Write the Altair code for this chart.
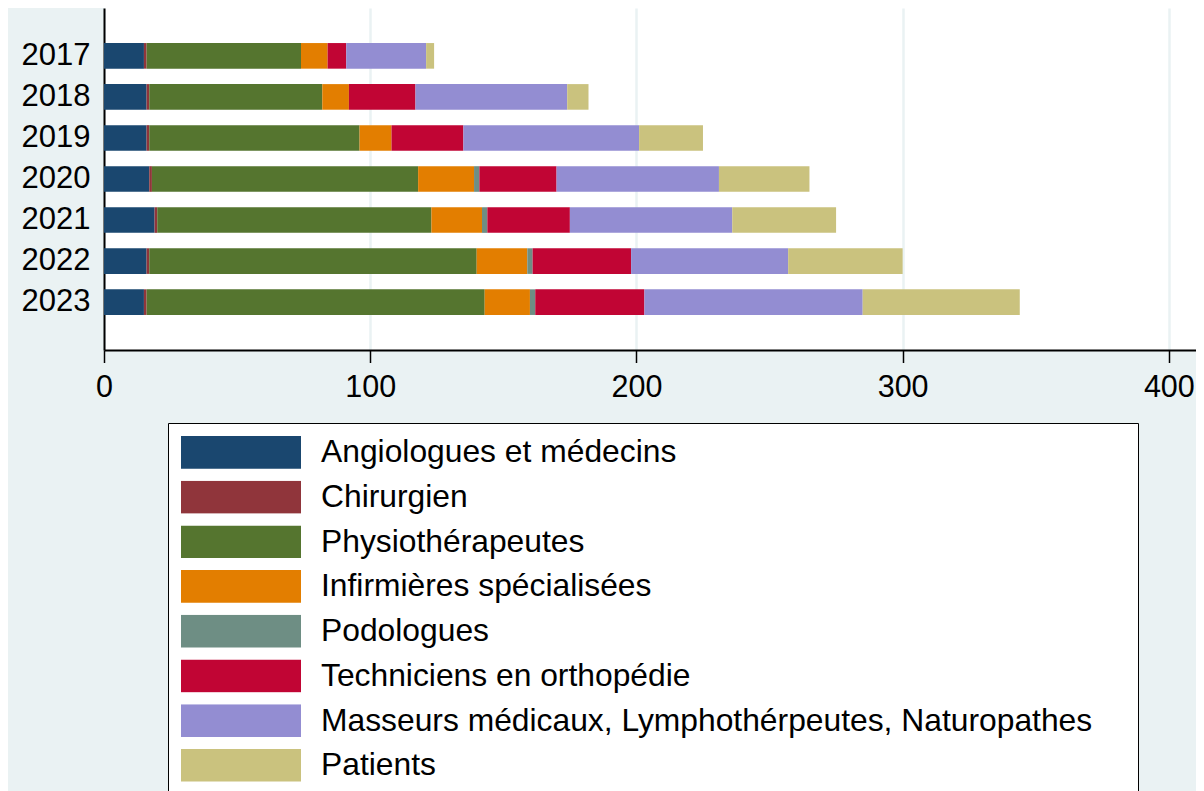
import altair as alt
import pandas as pd

years = ["2017", "2018", "2019", "2020", "2021", "2022", "2023"]
categories = [
    "Angiologues et médecins",
    "Chirurgien",
    "Physiothérapeutes",
    "Infirmières spécialisées",
    "Podologues",
    "Techniciens en orthopédie",
    "Masseurs médicaux, Lymphothérpeutes, Naturopathes",
    "Patients",
]
colors = ["#1A476F", "#90353B", "#55752F", "#E37E00", "#6E8E84", "#C10534", "#938DD2", "#CAC27E"]

angiologues = [15, 16, 16, 17, 19, 16, 15]
chirurgien = [1, 1, 1, 1, 1, 1, 1]
physio = [58, 65, 79, 100, 103, 123, 127]
infirmieres = [10, 10, 12, 21, 19, 19, 17]
podologues = [0, 0, 0, 2, 2, 2, 2]
techniciens = [7, 25, 27, 29, 31, 37, 41]
masseurs = [30, 57, 66, 61, 61, 59, 82]
patients = [3, 8, 24, 34, 39, 43, 59]

series = [angiologues, chirurgien, physio, infirmieres, podologues, techniciens, masseurs, patients]

rows = []
for i, (cat, vals) in enumerate(zip(categories, series)):
    for y, v in zip(years, vals):
        rows.append({"year": y, "cat": cat, "value": v, "idx": i})
df = pd.DataFrame(rows)

FONT = "Liberation Sans"

chart = (
    alt.Chart(df)
    .mark_bar()
    .encode(
        y=alt.Y(
            "year:N",
            sort=years,
            title=None,
            scale=alt.Scale(paddingInner=0.376, paddingOuter=0.854),
            axis=alt.Axis(
                ticks=False,
                labelFontSize=31,
                labelFont=FONT,
                labelColor="black",
                labelPadding=14,
                domainColor="black",
                domainWidth=2,
                grid=False,
            ),
        ),
        x=alt.X(
            "value:Q",
            stack="zero",
            title=None,
            scale=alt.Scale(domain=[0, 410.2], nice=False),
            axis=alt.Axis(
                values=[0, 100, 200, 300, 400],
                labelFontSize=30.5,
                labelFont=FONT,
                labelColor="black",
                labelPadding=10,
                tickSize=12.5,
                tickColor="black",
                tickWidth=1.5,
                domainColor="black",
                domainWidth=2,
                grid=True,
                gridColor="#EAF2F3",
                gridWidth=2.5,
                labelFlush=False,
            ),
        ),
        color=alt.Color(
            "cat:N",
            title=" ",
            scale=alt.Scale(domain=categories, range=colors),
            legend=alt.Legend(
                orient="none",
                legendX=64,
                legendY=415,
                padding=13,
                fillColor="white",
                strokeColor="black",
                symbolType="M-1,-0.2725H1V0.2725H-1Z",
                symbolSize=14400,
                symbolStrokeWidth=0,
                symbolOpacity=1,
                clipHeight=32.7,
                rowPadding=10.7,
                labelOffset=20,
                labelFontSize=31.8,
                labelFont=FONT,
                labelColor="black",
                labelLimit=2000,
                direction="vertical",
                titleOrient="right",
                titleFontSize=1,
                titlePadding=33,
            ),
        ),
        order=alt.Order("idx:Q", sort="ascending"),
    )
    .properties(
        width=1092,
        height=342,
        background="#EAF2F3",
        padding={"left": 96, "top": 0, "right": 0, "bottom": 441},
        autosize="none",
    )
    .configure_view(fill="white", stroke=None)
)

chart.save("out.html", embed_options={"renderer": "svg", "actions": False})
